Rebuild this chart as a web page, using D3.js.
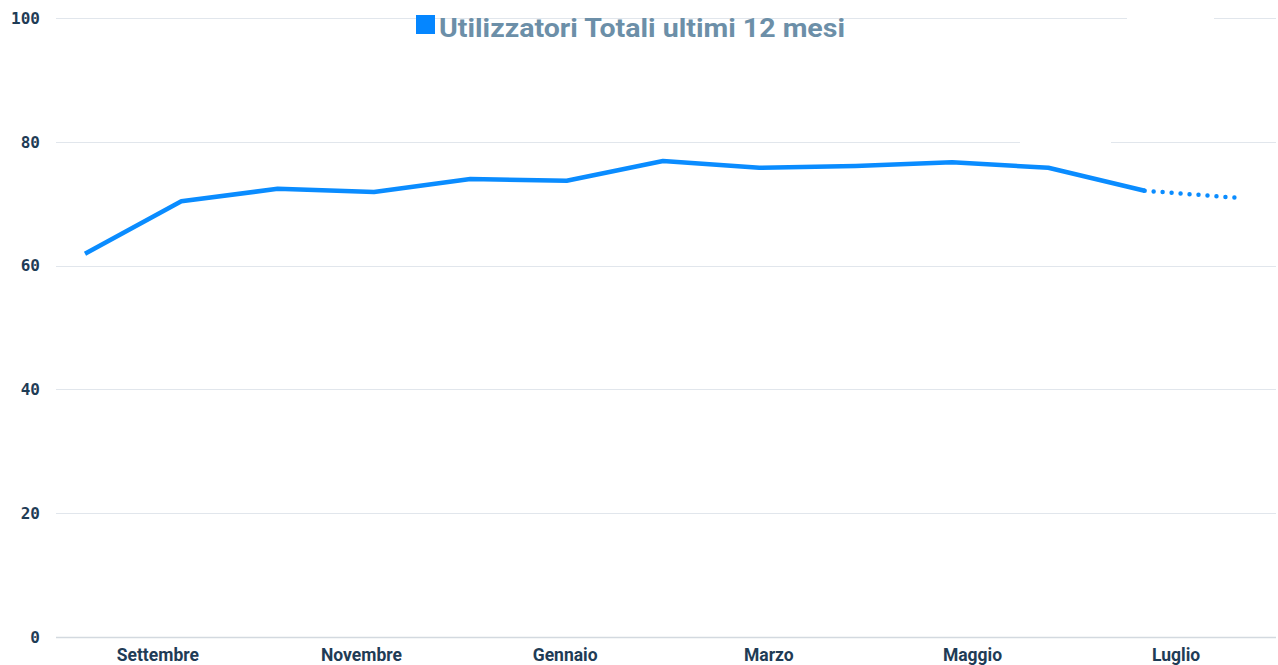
<!DOCTYPE html>
<html>
<head>
<meta charset="utf-8">
<script src="https://cdn.jsdelivr.net/npm/d3@7"></script>
<style>
  html, body { margin: 0; padding: 0; background: #fff; }
  svg { display: block; }
</style>
</head>
<body>
<svg id="chart"></svg>
<script>
// data
const seriesName = "Utilizzatori Totali ultimi 12 mesi";
const values = [61.9, 70.4, 72.4, 71.9, 74.0, 73.7, 76.9, 75.8, 76.1, 76.7, 75.8, 72.1, 70.9];
const projectedFrom = 11; // last segment is dotted
const monthTicks = ["Settembre", "Novembre", "Gennaio", "Marzo", "Maggio", "Luglio"];
const monthTickIndex = [1, 3, 5, 7, 9, 11];
const yTicks = [0, 20, 40, 60, 80, 100];

const width = 1278;
const height = 665;

const svg = d3.select("#chart")
  .attr("width", width)
  .attr("height", height);

const y = d3.scaleLinear().domain([0, 100]).range([637, 18]);
const xAxisScale = d3.scaleLinear().domain([0, 12]).range([56, 1278]);
const xLine = d3.scaleLinear().domain([0, values.length - 1]).range([85, 1241]);

// grid
const grid = svg.append("g").attr("class", "grid");
grid.selectAll("line")
  .data(yTicks)
  .join("line")
  .attr("x1", 56)
  .attr("x2", 1276)
  .attr("y1", (d) => Math.round(y(d)) + 0.5)
  .attr("y2", (d) => Math.round(y(d)) + 0.5)
  .attr("stroke", (d) => (d === 0 ? "#d3d9df" : "#e1e6ec"))
  .attr("stroke-width", (d) => (d === 0 ? 1.5 : 1));

// white blanks that interrupt the top grid lines
const blanks = [[100, 1127, 1214], [80, 1020, 1111]];
grid.selectAll("rect")
  .data(blanks)
  .join("rect")
  .attr("x", (d) => d[1])
  .attr("y", (d) => y(d[0]) - 3)
  .attr("width", (d) => d[2] - d[1])
  .attr("height", 6)
  .attr("fill", "#fff");

// y labels
svg.append("g")
  .selectAll("text")
  .data(yTicks)
  .join("text")
  .attr("x", 40)
  .attr("y", (d) => y(d))
  .attr("dy", "0.36em")
  .attr("text-anchor", "end")
  .attr("font-family", "'DejaVu Sans Mono', monospace")
  .attr("font-weight", "bold")
  .attr("font-size", 16)
  .attr("fill", "#1f3c56")
  .text((d) => d);

// x labels
svg.append("g")
  .selectAll("text")
  .data(monthTicks)
  .join("text")
  .attr("x", (d, i) => xAxisScale(monthTickIndex[i]))
  .attr("y", 661)
  .attr("text-anchor", "middle")
  .attr("font-family", "Roboto, 'Liberation Sans', sans-serif")
  .attr("font-weight", "bold")
  .attr("font-size", 17.5)
  .attr("fill", "#1f3c56")
  .text((d) => d);

// line
const pts = values.map((v, i) => ({ i, v }));
const line = d3.line().x((d) => xLine(d.i)).y((d) => y(d.v));

svg.append("path")
  .datum(pts.slice(0, projectedFrom + 1))
  .attr("d", line)
  .attr("fill", "none")
  .attr("stroke", "#0a8cff")
  .attr("stroke-width", 4.5)
  .attr("stroke-linejoin", "round");

svg.append("path")
  .datum(pts.slice(projectedFrom))
  .attr("d", line)
  .attr("fill", "none")
  .attr("stroke", "#0a8cff")
  .attr("stroke-width", 4.5)
  .attr("stroke-linecap", "round")
  .attr("stroke-dasharray", "0 9");

// legend
const legend = svg.append("g").attr("class", "legend");
legend.append("rect")
  .attr("x", 416)
  .attr("y", 15)
  .attr("width", 19)
  .attr("height", 19)
  .attr("fill", "#0586ff");
legend.append("text")
  .attr("x", 439)
  .attr("y", 37)
  .attr("font-family", "Roboto, 'Liberation Sans', sans-serif")
  .attr("font-weight", "bold")
  .attr("font-size", 25.5)
  .attr("fill", "#6c8fa8")
  .attr("textLength", 406)
  .attr("lengthAdjust", "spacingAndGlyphs")
  .text(seriesName);
</script>
</body>
</html>
